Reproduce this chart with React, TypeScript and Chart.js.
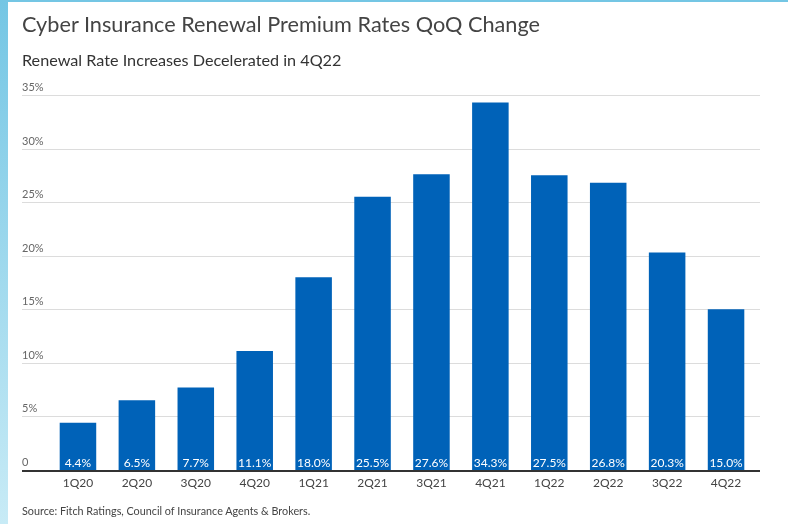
import React, { useEffect, useRef } from "react";
import { Chart, registerables } from "chart.js";

Chart.register(...registerables);

const categories = ["1Q20", "2Q20", "3Q20", "4Q20", "1Q21", "2Q21", "3Q21", "4Q21", "1Q22", "2Q22", "3Q22", "4Q22"];
const premiumChange = [4.4, 6.5, 7.7, 11.1, 18.0, 25.5, 27.6, 34.3, 27.5, 26.8, 20.3, 15.0];
const yTicks = [0, 5, 10, 15, 20, 25, 30, 35];
const titleText = "Cyber Insurance Renewal Premium Rates QoQ Change";
const subtitleText = "Renewal Rate Increases Decelerated in 4Q22";
const sourceText = "Source: Fitch Ratings, Council of Insurance Agents & Brokers.";

const FONT = "Lato, 'Open Sans', sans-serif";
const GRID_LEFT = 22;
const GRID_RIGHT = 760;

const decorPlugin = {
  id: "decor",
  beforeDatasetsDraw(chart: any) {
    const { ctx } = chart;
    const y = chart.scales.y;
    ctx.save();
    for (const t of yTicks) {
      const py = Math.round(y.getPixelForValue(t));
      if (t !== 0) {
        ctx.strokeStyle = "#dcdcdc";
        ctx.lineWidth = 1;
        ctx.beginPath();
        ctx.moveTo(GRID_LEFT, py + 0.5);
        ctx.lineTo(GRID_RIGHT, py + 0.5);
        ctx.stroke();
      }
      ctx.fillStyle = "#666";
      ctx.font = `11px ${FONT}`;
      ctx.textAlign = "left";
      ctx.textBaseline = "alphabetic";
      ctx.fillText(t === 0 ? "0" : `${t}%`, GRID_LEFT, py - 4);
    }
    ctx.restore();
  },
  afterDatasetsDraw(chart: any) {
    const { ctx } = chart;
    const x = chart.scales.x;
    const y = chart.scales.y;
    const y0 = Math.round(y.getPixelForValue(0));
    ctx.save();
    ctx.fillStyle = "#333";
    ctx.fillRect(GRID_LEFT, y0, GRID_RIGHT - GRID_LEFT, 2);
    ctx.textAlign = "center";
    ctx.textBaseline = "alphabetic";
    categories.forEach((c, i) => {
      const px = x.getPixelForValue(i);
      ctx.fillStyle = "#ffffff";
      ctx.font = `12px ${FONT}`;
      ctx.fillText(`${premiumChange[i].toFixed(1)}%`, px, y0 - 3);
      ctx.fillStyle = "#444";
      ctx.font = `12px ${FONT}`;
      ctx.fillText(c, px, y0 + 17);
    });
    ctx.restore();
  },
};

export default function App() {
  const ref = useRef<HTMLCanvasElement | null>(null);
  useEffect(() => {
    if (!ref.current) return;
    const chart = new Chart(ref.current, {
      type: "bar",
      data: {
        labels: categories,
        datasets: [
          {
            data: premiumChange,
            backgroundColor: "#0062b8",
            borderWidth: 0,
            barPercentage: 0.62,
            categoryPercentage: 1,
          },
        ],
      },
      options: {
        responsive: false,
        animation: false,
        devicePixelRatio: 1,
        layout: { padding: { left: 48.5, right: 32.5, top: 95, bottom: 54 } },
        plugins: { legend: { display: false }, tooltip: { enabled: false }, title: { display: false } },
        scales: {
          x: { display: false },
          y: { display: false, min: 0, max: 35 },
        },
      },
      plugins: [decorPlugin],
    });
    return () => chart.destroy();
  }, []);

  const textBase: React.CSSProperties = {
    position: "absolute",
    left: GRID_LEFT,
    fontFamily: FONT,
    whiteSpace: "nowrap",
    lineHeight: "normal",
    margin: 0,
  };

  return (
    <div style={{ position: "absolute", left: 0, top: 0, width: 788, height: 524, background: "#fff", overflow: "hidden" }}>
      <canvas ref={ref} width={788} height={524} style={{ position: "absolute", left: 0, top: 0, width: 788, height: 524 }} />
      <div style={{ position: "absolute", left: 0, top: 0, width: 8, height: 524, background: "linear-gradient(#74c6e4, #c8ebf6)" }} />
      <div style={{ position: "absolute", left: 0, top: 0, width: 788, height: 2, background: "#74c6e4" }} />
      <div style={{ ...textBase, top: 10.8, fontSize: 21.7, color: "#444" }}>{titleText}</div>
      <div style={{ ...textBase, top: 50, fontSize: 16.2, color: "#333" }}>{subtitleText}</div>
      <div style={{ ...textBase, top: 504, fontSize: 10.8, color: "#444" }}>{sourceText}</div>
    </div>
  );
}
